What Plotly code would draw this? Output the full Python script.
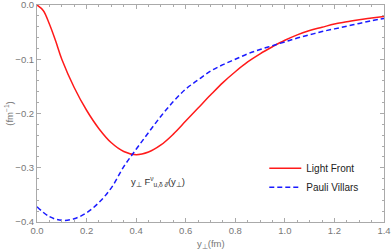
import plotly.graph_objects as go

x_lf = [0.0, 0.025, 0.05, 0.075, 0.1, 0.15, 0.2, 0.25, 0.3, 0.35, 0.4, 0.45, 0.5, 0.55, 0.6,
        0.65, 0.7, 0.75, 0.8, 0.85, 0.9, 0.95, 1.0, 1.05, 1.1, 1.15, 1.2, 1.25, 1.3, 1.35, 1.4]
y_lf = [0.0, -0.01, -0.035, -0.066, -0.1, -0.152, -0.194, -0.228, -0.254, -0.27, -0.276, -0.271,
        -0.258, -0.238, -0.214, -0.19, -0.166, -0.143, -0.123, -0.105, -0.09, -0.077, -0.065,
        -0.055, -0.047, -0.041, -0.035, -0.031, -0.027, -0.024, -0.021]

x_pv = [0.0, 0.05, 0.1, 0.15, 0.2, 0.25, 0.3, 0.35, 0.4, 0.45, 0.5, 0.55, 0.6, 0.65, 0.7,
        0.75, 0.8, 0.85, 0.9, 0.95, 1.0, 1.05, 1.1, 1.15, 1.2, 1.25, 1.3, 1.35, 1.4]
y_pv = [-0.372, -0.39, -0.397, -0.394, -0.383, -0.364, -0.337, -0.298, -0.266, -0.235, -0.205,
        -0.178, -0.155, -0.138, -0.122, -0.11, -0.1, -0.09, -0.082, -0.075, -0.068, -0.061,
        -0.055, -0.049, -0.044, -0.039, -0.034, -0.029, -0.025]

x_ticks = [0.0, 0.2, 0.4, 0.6, 0.8, 1.0, 1.2, 1.4]
y_ticks = [0.0, -0.1, -0.2, -0.3, -0.4]

gray = "#777777"
fig = go.Figure()
fig.add_trace(go.Scatter(x=x_lf, y=y_lf, mode="lines", name="Light Front",
                         line=dict(color="#ff1a1a", width=1.5, shape="spline")))
fig.add_trace(go.Scatter(x=x_pv, y=y_pv, mode="lines", name="Pauli Villars",
                         line=dict(color="#1a1aff", width=1.5, dash="5px,3px", shape="spline")))

axis_common = dict(showgrid=False, zeroline=False, showline=True, linecolor="#aaaaaa",
                   linewidth=1, mirror="allticks", ticks="inside", ticklen=4,
                   tickcolor="#aaaaaa", tickfont=dict(size=9.5, color=gray), automargin=False,
                   ticklabeloverflow="allow")
fig.update_xaxes(range=[0, 1.4], tickvals=x_ticks, tickformat=".1f",
                 minor=dict(dtick=0.05, ticks="inside", ticklen=2, tickcolor="#aaaaaa"),
                 **axis_common)
fig.update_yaxes(range=[-0.4, 0], tickvals=y_ticks, tickformat=".1f",
                 minor=dict(dtick=0.02, ticks="inside", ticklen=2, tickcolor="#aaaaaa"),
                 **axis_common)

fig.add_annotation(x=0.5, y=-0.103, xref="paper", yref="paper", showarrow=False,
                   text="y<sub>⊥</sub>(fm)", font=dict(size=9.5, color=gray),
                   xanchor="center", yanchor="middle")
fig.add_annotation(x=-0.083, y=0.5, xref="paper", yref="paper", showarrow=False,
                   text="(fm<sup>−1</sup>)", font=dict(size=9.5, color=gray), textangle=-90,
                   xanchor="center", yanchor="middle")

fig.add_annotation(x=0.372, y=-0.326, xanchor="left", yanchor="middle", showarrow=False,
                   text="y<sub>⊥</sub> F<sup>ν</sup><sub>u,δ ∂̄</sub>(y<sub>⊥</sub>)",
                   font=dict(size=9.5, color="#333333"))

fig.update_layout(width=391, height=252, margin=dict(l=37, r=7, t=5, b=30),
                  plot_bgcolor="white", paper_bgcolor="white",
                  font=dict(family="Liberation Sans, Arial, sans-serif"),
                  legend=dict(x=0.655, y=0.315, xanchor="left", yanchor="top",
                              bgcolor="rgba(0,0,0,0)", font=dict(size=10, color="#222222"),
                              tracegroupgap=0, itemwidth=32))
fig.write_html("out.html", config={"displayModeBar": False},
               post_script="document.body.style.margin='0';document.body.style.overflow='hidden';")
